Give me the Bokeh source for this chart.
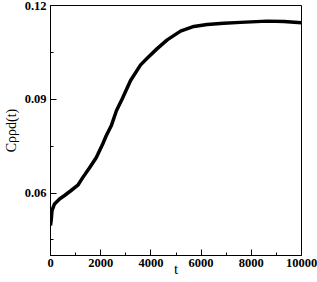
from bokeh.plotting import figure
from bokeh.models import FixedTicker, Range1d
from bokeh.embed import file_html
from bokeh.resources import INLINE

# data
t_vals = [0, 30, 60, 160, 360, 560, 820, 1090, 1290, 1550, 1820, 2080, 2220,
          2420, 2630, 2850, 3190, 3590, 3850, 4250, 4650, 5180, 5710, 6240,
          6900, 7570, 8630, 9300, 10000]
c_vals = [0.0496, 0.0515, 0.0544, 0.0565, 0.0581, 0.0592, 0.0608, 0.0625,
          0.0650, 0.0680, 0.0713, 0.0757, 0.0783, 0.0815, 0.0864, 0.0900,
          0.0960, 0.1010, 0.1031, 0.1062, 0.1090, 0.1118, 0.1133, 0.1139,
          0.1143, 0.1146, 0.1150, 0.1149, 0.1145]
x_major = [0, 2000, 4000, 6000, 8000, 10000]
x_minor = [1000, 3000, 5000, 7000, 9000]
y_major = [0.06, 0.09, 0.12]
y_minor = [0.045, 0.075, 0.105]
x_title = "t"
y_title = "Cρρd(t)"

FONT = "Liberation Serif"
W, H = 317, 282

p = figure(width=W, height=H, output_backend="svg", toolbar_location=None,
           x_range=Range1d(0, 10000), y_range=Range1d(0.04, 0.12),
           min_border_left=50, min_border_right=16, min_border_top=5,
           min_border_bottom=27)
p.grid.visible = False
p.background_fill_color = "white"
p.border_fill_color = "white"
p.outline_line_color = "black"
p.outline_line_width = 1

p.xaxis.ticker = FixedTicker(ticks=x_major, minor_ticks=x_minor)
p.yaxis.ticker = FixedTicker(ticks=y_major, minor_ticks=y_minor)
p.yaxis.major_label_overrides = {0.06: "0.06", 0.09: "0.09", 0.12: "0.12"}
for ax in (p.xaxis, p.yaxis):
    ax.major_tick_in = 6
    ax.major_tick_out = 0
    ax.minor_tick_in = 3
    ax.minor_tick_out = 0
    ax.axis_line_color = "black"
    ax.major_tick_line_color = "black"
    ax.minor_tick_line_color = "black"
    ax.major_label_text_font = FONT
    ax.major_label_text_font_style = "bold"
    ax.major_label_text_font_size = "12.5px"
    ax.major_label_text_color = "black"
    ax.axis_label_text_font = FONT
    ax.axis_label_text_font_style = "normal"
    ax.axis_label_text_color = "black"
p.xaxis.major_label_standoff = 3
p.yaxis.major_label_standoff = 4

p.xaxis.axis_label = x_title
p.xaxis.axis_label_text_font_size = "15px"
p.xaxis.axis_label_standoff = -9

p.yaxis.axis_label = y_title
p.yaxis.axis_label_text_font_size = "14px"
p.yaxis.axis_label_standoff = 3

p.line(t_vals, c_vals, line_width=3.5, color="black")

open("out.html", "w").write(file_html(p, INLINE))
